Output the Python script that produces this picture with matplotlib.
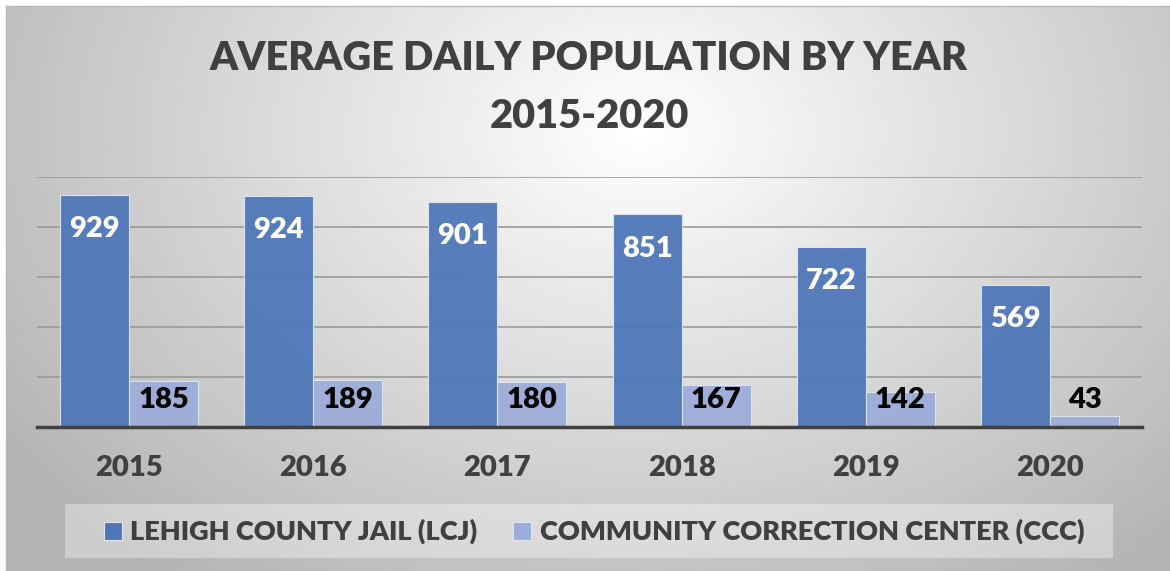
import numpy as np
import matplotlib.pyplot as plt
from matplotlib.patches import Rectangle

# data
anos = ["2015", "2016", "2017", "2018", "2019", "2020"]
lcj = [929, 924, 901, 851, 722, 569]
ccc = [185, 189, 180, 167, 142, 43]
series_names = ["LEHIGH COUNTY JAIL (LCJ)", "COMMUNITY CORRECTION CENTER (CCC)"]
titulo = "AVERAGE DAILY POPULATION BY YEAR\n2015-2020"

cor_lcj = "#4f77b8"
cor_ccc = "#9dadd9"
cinza = "#404040"
fonte = "Lato"
peso = "heavy"

W, H = 1170, 571
fig = plt.figure(figsize=(W / 100, H / 100), dpi=100)
fig.patch.set_facecolor("white")

# fundo com gradiente radial
bg = fig.add_axes([6 / W, 0, 1 - 6 / W, 1 - 6 / H])
xx, yy = np.meshgrid(np.linspace(6, W, 400), np.linspace(6, H, 200))
d = np.sqrt(((xx - 640) / 680) ** 2 + ((yy - 130) / 500) ** 2)
g = 1.0 - 0.26 * np.clip(d, 0, 1.15)
bg.imshow(g, cmap="gray", vmin=0, vmax=1, aspect="auto",
          extent=(0, 1, 0, 1), origin="upper", interpolation="bilinear")
bg.set_xlim(0, 1)
bg.set_ylim(0, 1)
bg.set_xticks([])
bg.set_yticks([])
for s in bg.spines.values():
    s.set_color("#b8b8b8")
    s.set_linewidth(1)

# area do grafico
x0, x1 = 37, 1142
y_top, y_base = 177, 427
ax = fig.add_axes([x0 / W, 1 - y_base / H, (x1 - x0) / W, (y_base - y_top) / H])
ax.patch.set_alpha(0)

x = np.arange(len(anos))
w = 0.375
ax.bar(x - w / 2, lcj, w, color=cor_lcj, alpha=0.95, edgecolor="#dfe6f2",
       linewidth=0.8, zorder=3, label=series_names[0])
ax.bar(x + w / 2, ccc, w, color=cor_ccc, alpha=0.95, edgecolor="#dfe6f2",
       linewidth=0.8, zorder=3, label=series_names[1])

for xi, v in zip(x, lcj):
    ax.text(xi - w / 2, v - 138, str(v), ha="center", va="center",
            color="white", fontsize=21, fontweight=peso, family=fonte, zorder=4)
for xi, v in zip(x, ccc):
    ax.text(xi + w / 2, 110, str(v), ha="center", va="center",
            color="black", fontsize=21, fontweight=peso, family=fonte, zorder=4)

ax.set_xlim(-0.5, len(anos) - 0.5)
ax.set_ylim(0, 1000)
ax.set_yticks([200, 400, 600, 800, 1000])
ax.set_yticklabels([])
ax.tick_params(axis="y", length=0)
ax.grid(axis="y", color="#9a9a9a", linewidth=1.2, zorder=0)
ax.set_xticks(x)
ax.set_xticklabels(anos, fontsize=21, fontweight=peso, family=fonte, color=cinza)
ax.tick_params(axis="x", length=0, pad=20)
for lado in ["top", "right", "left"]:
    ax.spines[lado].set_visible(False)
ax.spines["bottom"].set_color(cinza)
ax.spines["bottom"].set_linewidth(2.5)
ax.spines["bottom"].set_zorder(5)

# titulo
linhas = titulo.split("\n")
fig.text(589 / W, 1 - 58 / H, linhas[0], ha="center", va="center",
         fontsize=28.6, fontweight=peso, family=fonte, color=cinza)
fig.text(589 / W, 1 - 116 / H, linhas[1], ha="center", va="center",
         fontsize=28.6, fontweight=peso, family=fonte, color=cinza)

# legenda
fig.patches.append(Rectangle((65 / W, 1 - 558 / H), (1113 - 65) / W, 54 / H,
                             transform=fig.transFigure, facecolor="white",
                             alpha=0.35, edgecolor="none"))
ly = 1 - 531 / H
for (sx, tx), cor, nome in zip([(104, 130), (513, 540)], [cor_lcj, cor_ccc], series_names):
    fig.patches.append(Rectangle((sx / W, ly - 9 / H), 18 / W, 18 / H,
                                 transform=fig.transFigure, facecolor=cor,
                                 edgecolor="#dfe6f2", linewidth=0.8))
    fig.text(tx / W, ly, nome, ha="left", va="center", fontsize=19.5,
             fontweight=peso, family=fonte, color=cinza)

fig.savefig("out.png", dpi=100)
